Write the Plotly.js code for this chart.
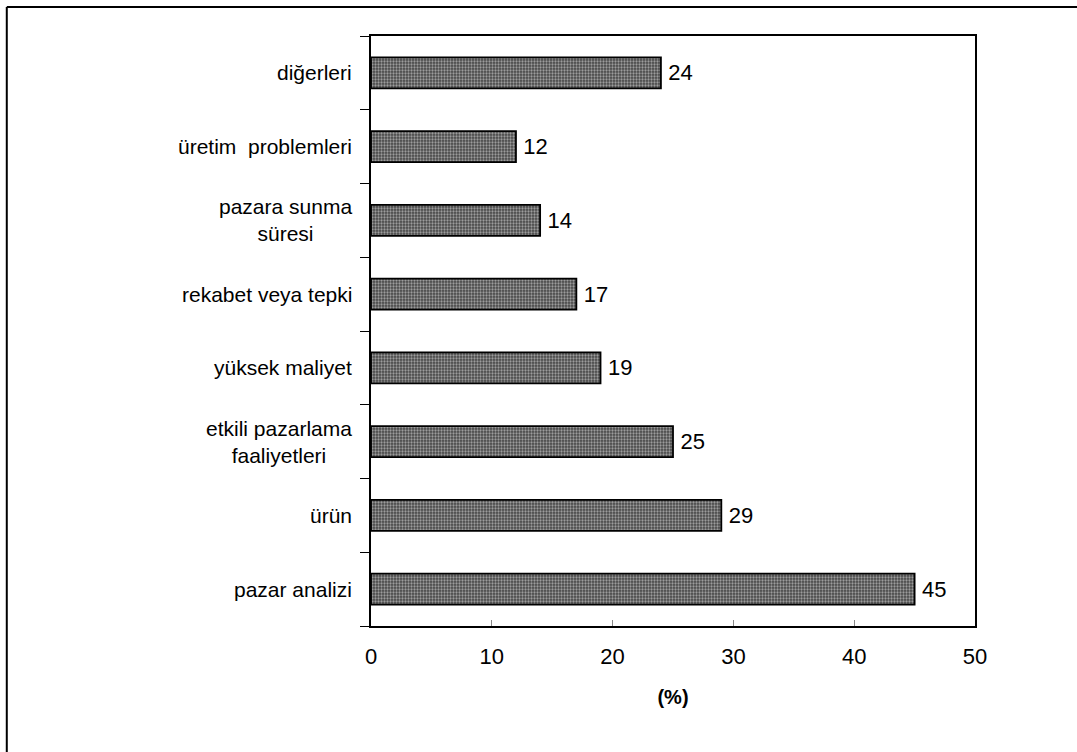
<!DOCTYPE html>
<html>
<head>
<meta charset="utf-8">
<script src="https://cdn.plot.ly/plotly-3.0.1.min.js"></script>
<style>
  html, body { margin: 0; padding: 0; background: #fff; }
  #chart { width: 1077px; height: 752px; }
</style>
</head>
<body>
<div id="chart"></div>
<script>
// Reasons listed from bottom to top of the chart
const categories = [
  'pazar analizi',
  'ürün',
  'etkili pazarlama<br>faaliyetleri',
  'yüksek maliyet',
  'rekabet veya tepki',
  'pazara sunma<br>süresi',
  'üretim\u00a0 problemleri',
  'diğerleri'
];
const percents = [45, 29, 25, 19, 17, 14, 12, 24];
const xTickValues = [0, 10, 20, 30, 40, 50];

const FONT = 'Liberation Sans, Arial, sans-serif';

const trace = {
  type: 'bar',
  orientation: 'h',
  x: percents,
  y: categories,
  marker: {
    color: '#505050',
    line: { color: '#000', width: 1.8 },
    pattern: { shape: '.', bgcolor: '#474747', fgcolor: '#9c9c9c', size: 3, solidity: 0.45 }
  },
  texttemplate: '\u2009%{x}',
  textposition: 'outside',
  cliponaxis: false,
  textfont: { family: FONT, size: 22, color: '#000' },
  hoverinfo: 'skip'
};

// Category labels as centred annotations to the left of the axis
const labelAnnotations = categories.map(c => ({
  xref: 'paper', yref: 'y',
  x: 0, y: c,
  xanchor: 'right', yanchor: 'middle',
  xshift: -17,
  align: 'center',
  showarrow: false,
  text: c,
  font: { family: FONT, size: 21, color: '#000' }
}));

const layout = {
  width: 1077,
  height: 752,
  margin: { l: 371, r: 102, t: 36, b: 126 },
  paper_bgcolor: '#fff',
  plot_bgcolor: '#fff',
  showlegend: false,
  bargap: 0.58,
  font: { family: FONT, color: '#000' },
  xaxis: {
    range: [0, 50],
    tickvals: xTickValues,
    ticktext: xTickValues.map(String),
    ticks: 'inside',
    ticklen: 6,
    tickcolor: '#888',
    tickwidth: 1,
    showgrid: false,
    zeroline: false,
    showline: true,
    linecolor: '#000',
    linewidth: 2,
    mirror: true,
    tickfont: { family: FONT, size: 22, color: '#000' },
    ticklabelstandoff: 10,
    title: { text: '<b>(%)</b>', font: { family: FONT, size: 20, color: '#000' }, standoff: 22 }
  },
  yaxis: {
    type: 'category',
    categoryorder: 'array',
    categoryarray: categories,
    range: [-0.5, 7.5],
    tickson: 'boundaries',
    ticks: 'outside',
    ticklen: 9,
    tickcolor: '#000',
    tickwidth: 1,
    showticklabels: false,
    showgrid: false,
    zeroline: false,
    showline: true,
    linecolor: '#000',
    linewidth: 2,
    mirror: true
  },
  annotations: labelAnnotations,
  shapes: [
    // outer frame (top and left edges)
    { type: 'line', xref: 'paper', yref: 'paper', x0: -0.603, x1: 1.2, y0: 1.049, y1: 1.049,
      line: { color: '#000', width: 2 } },
    { type: 'line', xref: 'paper', yref: 'paper', x0: -0.603, x1: -0.603, y0: 1.049, y1: -0.25,
      line: { color: '#000', width: 2 } }
  ]
};

Plotly.newPlot('chart', [trace], layout, { displayModeBar: false, staticPlot: true });
</script>
</body>
</html>
